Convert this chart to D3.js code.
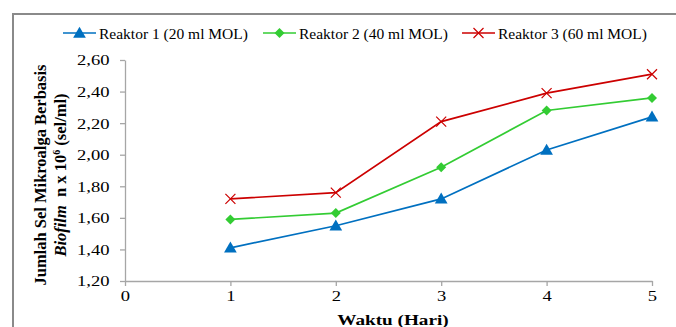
<!DOCTYPE html>
<html><head><meta charset="utf-8">
<script src="https://cdn.jsdelivr.net/npm/d3@7"></script>
<style>body{margin:0;background:#fff}svg{display:block}text{font-family:"Liberation Serif","Times New Roman",serif}</style>
</head><body><svg id="c" width="676" height="327"></svg>
<script>
const days = [1, 2, 3, 4, 5];
const xTicks = [0, 1, 2, 3, 4, 5];
const yTicks = [1.2, 1.4, 1.6, 1.8, 2.0, 2.2, 2.4, 2.6];
const reaktor1 = [1.41, 1.55, 1.72, 2.03, 2.24];
const reaktor2 = [1.59, 1.63, 1.92, 2.28, 2.36];
const reaktor3 = [1.72, 1.76, 2.21, 2.39, 2.51];
const seriesNames = ["Reaktor 1 (20 ml MOL)", "Reaktor 2 (40 ml MOL)", "Reaktor 3 (60 ml MOL)"];
const colors = ["#0070C0", "#33CC33", "#CC0000"];
const markers = ["triangle", "diamond", "cross"];
const seriesValues = [reaktor1, reaktor2, reaktor3];

const svg = d3.select("#c");
svg.append("path").attr("d","M13,327 V14 H676").attr("fill","none").attr("stroke","#8a8a8a").attr("stroke-width",2);

const x = d3.scaleLinear().domain([0,5]).range([125,652]);
const y = d3.scaleLinear().domain([1.2,2.6]).range([281,60]);
const fmt = d => d.toFixed(2).replace(".", ",");
const SX = 1.28;

const gx = svg.append("g").attr("transform",`translate(0,${y(1.2)})`)
  .call(d3.axisBottom(x).tickValues(xTicks).tickSize(5).tickSizeOuter(0).tickFormat(d3.format("d")));
const gy = svg.append("g").attr("transform",`translate(${x(0)},0)`)
  .call(d3.axisLeft(y).tickValues(yTicks).tickSize(5).tickSizeOuter(0).tickFormat(fmt));
[gx,gy].forEach(g=>{
  g.attr("font-family",null);
  g.selectAll("path,line").attr("stroke","#a6a6a6").attr("stroke-width",1.3);
  g.selectAll("text").attr("font-size","14.5px").attr("fill","#000");
});
gx.selectAll("text").attr("y",20).attr("dy",null).attr("transform",`scale(${SX},1)`);
gy.selectAll("text").attr("x",-15.5/SX*1.0).attr("dy","0.34em").attr("transform",`scale(${SX},1)`);

function drawMarker(g, type, color, cx, cy){
  if(type==="triangle"){
    g.append("path").attr("d",d3.symbol(d3.symbolTriangle,70)()).attr("transform",`translate(${cx},${cy+1})`).attr("fill",color);
  } else if(type==="diamond"){
    g.append("path").attr("d","M0,-5 L5,0 L0,5 L-5,0Z").attr("transform",`translate(${cx},${cy})`).attr("fill",color);
  } else {
    g.append("path").attr("d","M-5,-5 L5,5 M-5,5 L5,-5").attr("transform",`translate(${cx},${cy})`).attr("stroke",color).attr("stroke-width",1.2).attr("fill","none");
  }
}

const line = d3.line().x((d,i)=>x(days[i])).y(d=>y(d));
seriesValues.forEach((vals,k)=>{
  const g = svg.append("g");
  g.append("path").attr("d",line(vals)).attr("fill","none").attr("stroke",colors[k]).attr("stroke-width",1.7);
  vals.forEach((v,i)=>drawMarker(g,markers[k],colors[k],x(days[i]),y(v)));
});

const legendX = [63, 263, 462];
seriesNames.forEach((n,k)=>{
  const g = svg.append("g");
  g.append("line").attr("x1",legendX[k]).attr("x2",legendX[k]+33).attr("y1",33).attr("y2",33).attr("stroke",colors[k]).attr("stroke-width",1.7);
  drawMarker(g,markers[k],colors[k],legendX[k]+16.5,33);
  g.append("text").attr("x",legendX[k]+36).attr("y",38.5).attr("font-size","15.5px").text(n);
});

svg.append("text").attr("transform",`translate(393,325) scale(${SX},1)`).attr("text-anchor","middle").attr("font-size","15px").attr("font-weight","bold").text("Waktu (Hari)");
const yt = svg.append("g").attr("transform","translate(0,175) rotate(-90)");
yt.append("text").attr("x",0).attr("y",46).attr("text-anchor","middle").attr("font-size","16.5px").attr("font-weight","bold").text("Jumlah Sel Mikroalga Berbasis");
const t2 = yt.append("text").attr("x",0).attr("y",66).attr("text-anchor","middle").attr("font-size","16.5px").attr("font-weight","bold");
t2.append("tspan").attr("font-style","italic").text("Biofilm");
t2.append("tspan").text("\u00a0\u00a0n x 10");
t2.append("tspan").attr("font-size","10px").attr("dy","-6").text("6");
t2.append("tspan").attr("dy","6").text(" (sel/ml)");
</script></body></html>
